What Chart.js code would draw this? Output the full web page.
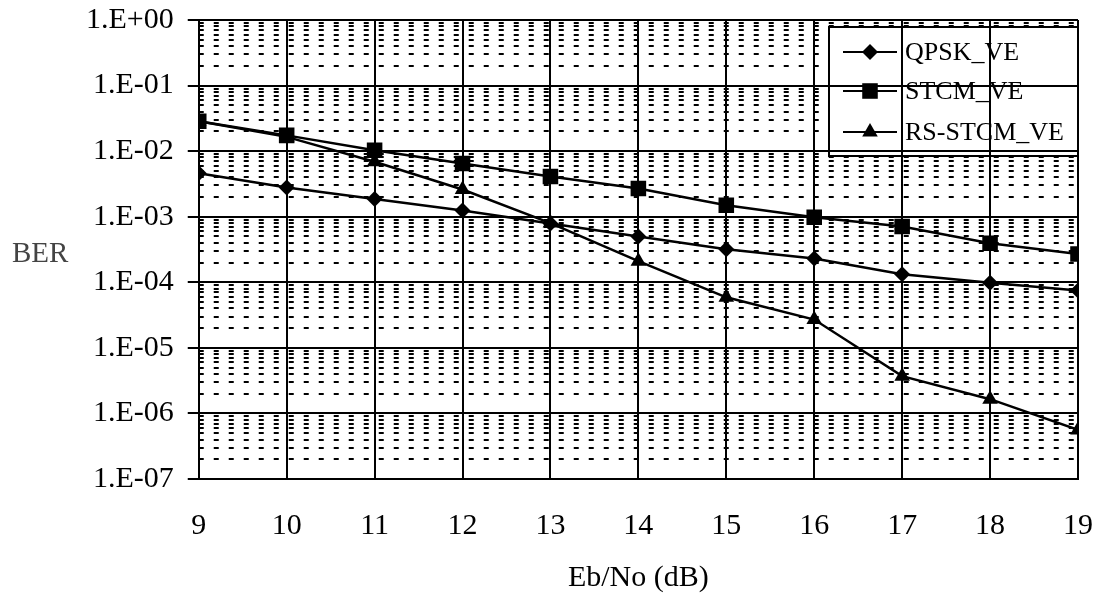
<!DOCTYPE html>
<html>
<head>
<meta charset="utf-8">
<script src="https://cdn.jsdelivr.net/npm/chart.js@4/dist/chart.umd.min.js"></script>
<style>
  body { margin: 0; background: #fff; }
  #wrap { width: 1098px; height: 598px; }
</style>
</head>
<body>
<div id="wrap"><canvas id="myChart" width="1098" height="598"></canvas></div>
<script>
// datos
const ebno = [9, 10, 11, 12, 13, 14, 15, 16, 17, 18, 19];
const qpskVE = [4.6e-3, 2.8e-3, 1.86e-3, 1.24e-3, 7.9e-4, 5.0e-4, 3.2e-4, 2.3e-4, 1.33e-4, 9.8e-5, 7.5e-5];
const stcmVE = [2.86e-2, 1.74e-2, 1.03e-2, 6.5e-3, 4.1e-3, 2.7e-3, 1.5e-3, 9.8e-4, 7.1e-4, 3.95e-4, 2.7e-4];
const rsStcmVE = [2.86e-2, 1.65e-2, 6.9e-3, 2.6e-3, 8.0e-4, 2.1e-4, 5.9e-5, 2.7e-5, 3.7e-6, 1.65e-6, 5.6e-7];
const yDecades = [1e-7, 1e-6, 1e-5, 1e-4, 1e-3, 1e-2, 1e-1, 1];
const yTickLabels = ['1.E-07', '1.E-06', '1.E-05', '1.E-04', '1.E-03', '1.E-02', '1.E-01', '1.E+00'];
const seriesNames = ['QPSK_VE', 'STCM_VE', 'RS-STCM_VE'];
const xTitle = 'Eb/No (dB)';
const yTitle = 'BER';

const fontFam = '"Liberation Serif", "Times New Roman", serif';

// caja de la leyenda (relativa al area del grafico)
let legendBox = (area) => ({ x: area.right - 249, y: area.top + 7, w: 249, h: 129 });
const legendRows = [25, 64, 105];

function marker(ctx, style, x, y, r) {
    ctx.beginPath();
    if (style === 'rectRot') {
        ctx.moveTo(x, y - r); ctx.lineTo(x + r, y); ctx.lineTo(x, y + r); ctx.lineTo(x - r, y);
    } else if (style === 'rect') {
        let s = r * Math.SQRT1_2;
        ctx.rect(x - s, y - s, 2 * s, 2 * s);
    } else {
        ctx.moveTo(x, y - r);
        ctx.lineTo(x + r * 0.866, y + r * 0.5);
        ctx.lineTo(x - r * 0.866, y + r * 0.5);
    }
    ctx.closePath();
    ctx.fill();
}

const gridPlugin = {
    id: 'minorGrid',
    beforeDatasetsDraw(chart) {
        const ctx = chart.ctx, a = chart.chartArea, ys = chart.scales.y;
        const lb = legendBox(a);
        ctx.save();
        ctx.beginPath();
        ctx.rect(a.left, a.top, a.right - a.left, a.bottom - a.top);
        ctx.rect(lb.x, lb.y, lb.w, lb.h);
        ctx.clip('evenodd');
        ctx.strokeStyle = '#000';
        ctx.lineWidth = 2;
        ctx.setLineDash([5, 10]);
        ctx.lineDashOffset = 0;
        for (let d = -7; d < 0; d++) {
            for (let m = 2; m <= 9; m++) {
                let y = Math.round(ys.getPixelForValue(m * Math.pow(10, d)));
                ctx.beginPath();
                ctx.moveTo(a.left, y);
                ctx.lineTo(a.right, y);
                ctx.stroke();
            }
        }
        ctx.restore();
    },
    afterDatasetsDraw(chart) {
        const ctx = chart.ctx, a = chart.chartArea;
        const lb = legendBox(a);
        ctx.save();
        ctx.strokeStyle = '#000';
        ctx.fillStyle = '#000';
        ctx.lineWidth = 2;
        ctx.strokeRect(lb.x, lb.y, lb.w, lb.h);
        ctx.font = '26px ' + fontFam;
        ctx.textBaseline = 'middle';
        chart.data.datasets.forEach((ds, i) => {
            let y = lb.y + legendRows[i];
            ctx.beginPath();
            ctx.moveTo(lb.x + 14, y);
            ctx.lineTo(lb.x + 68, y);
            ctx.stroke();
            marker(ctx, ds.pointStyle, lb.x + 41, y, ds.pointRadius);
            ctx.fillText(ds.label, lb.x + 76, y + 1);
        });
        // titulo del eje x
        ctx.font = '30px ' + fontFam;
        ctx.textAlign = 'center';
        ctx.fillText(xTitle, (a.left + a.right) / 2, 578);
        // etiqueta BER
        ctx.textAlign = 'left';
        ctx.fillStyle = '#444';
        ctx.font = '29px ' + fontFam;
        ctx.fillText(yTitle, 12, 254);
        ctx.restore();
    }
};

function mkSet(label, data, style, r) {
    return {
        label: label,
        data: data,
        borderColor: '#000',
        backgroundColor: '#000',
        borderWidth: 2.5,
        pointStyle: style,
        pointRadius: r,
        pointHoverRadius: r,
        pointBorderWidth: 0,
        tension: 0
    };
}

var ctx = document.getElementById('myChart').getContext('2d');
var myChart = new Chart(ctx, {
    type: 'line',
    data: {
        labels: ebno,
        datasets: [
            mkSet(seriesNames[0], qpskVE.map((v, i) => ({ x: ebno[i], y: v })), 'rectRot', 8),
            mkSet(seriesNames[1], stcmVE.map((v, i) => ({ x: ebno[i], y: v })), 'rect', 11),
            mkSet(seriesNames[2], rsStcmVE.map((v, i) => ({ x: ebno[i], y: v })), 'triangle', 9)
        ]
    },
    options: {
        responsive: false,
        animation: false,
        layout: { padding: { left: 72, right: 20, top: 20, bottom: 25 } },
        plugins: {
            legend: { display: false },
            tooltip: { enabled: false }
        },
        scales: {
            x: {
                type: 'linear',
                min: 9,
                max: 19,
                afterFit: (scale) => { scale.paddingLeft = 0; scale.paddingRight = 0; },
                ticks: {
                    stepSize: 1,
                    color: '#000',
                    padding: 29,
                    font: { family: fontFam, size: 30 },
                    maxRotation: 0
                },
                grid: { color: '#000', lineWidth: 2, drawTicks: false },
                border: { color: '#000', width: 2 }
            },
            y: {
                type: 'logarithmic',
                min: 1e-7,
                max: 1,
                afterBuildTicks: (scale) => {
                    scale.ticks = yDecades.map(v => ({ value: v }));
                },
                afterFit: (scale) => { scale.paddingTop = 0; scale.paddingBottom = 0; },
                ticks: {
                    color: '#000',
                    padding: 14,
                    font: { family: fontFam, size: 30 },
                    callback: (v) => {
                        let k = yDecades.findIndex(d => Math.abs(Math.log10(d) - Math.log10(v)) < 1e-6);
                        return k >= 0 ? yTickLabels[k] : '';
                    }
                },
                grid: { color: '#000', lineWidth: 2, drawTicks: true, tickLength: 11 },
                border: { color: '#000', width: 2 }
            }
        }
    },
    plugins: [gridPlugin]
});
</script>
</body>
</html>
